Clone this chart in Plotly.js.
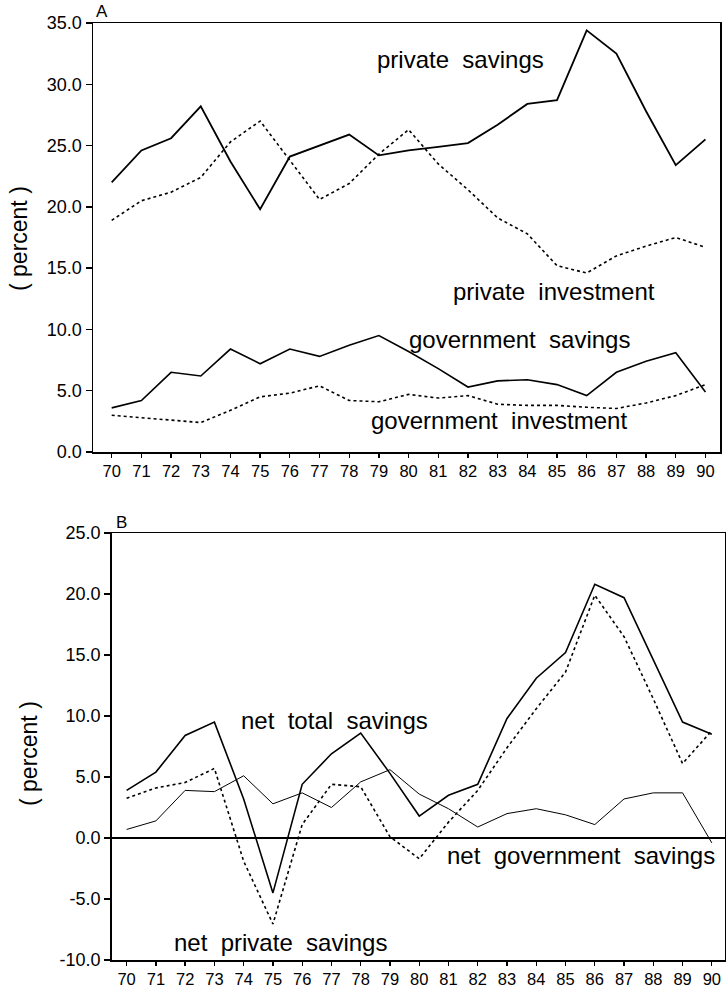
<!DOCTYPE html>
<html>
<head>
<meta charset="utf-8">
<script src="https://cdn.plot.ly/plotly-3.0.1.min.js"></script>
<style>
html,body{margin:0;padding:0;background:#fff;}
#chart{width:726px;height:990px;}
</style>
</head>
<body>
<div id="chart"></div>
<script>
// ---- data ----
var years = [70,71,72,73,74,75,76,77,78,79,80,81,82,83,84,85,86,87,88,89,90];
var yearLabels = ['70','71','72','73','74','75','76','77','78','79','80','81','82','83','84','85','86','87','88','89','90'];

// Panel A
var privateSavings    = [22.0,24.6,25.6,28.2,23.7,19.8,24.1,25.0,25.9,24.2,24.6,24.9,25.2,26.7,28.4,28.7,34.4,32.5,27.8,23.4,25.5];
var privateInvestment = [18.9,20.5,21.2,22.4,25.3,27.0,23.8,20.6,21.9,24.3,26.3,23.5,21.4,19.1,17.8,15.2,14.6,16.0,16.8,17.5,16.7];
var govSavings        = [3.6,4.2,6.5,6.2,8.4,7.2,8.4,7.8,8.7,9.5,8.2,6.8,5.3,5.8,5.9,5.5,4.6,6.5,7.4,8.1,4.9];
var govInvestment     = [3.0,2.8,2.6,2.4,3.4,4.5,4.8,5.4,4.2,4.1,4.7,4.4,4.6,3.9,3.8,3.8,3.65,3.55,4.0,4.6,5.5];

// Panel B
var netTotal   = [3.9,5.4,8.4,9.5,3.2,-4.5,4.4,6.9,8.6,5.3,1.8,3.5,4.4,9.8,13.1,15.2,20.8,19.7,14.6,9.5,8.5];
var netPrivate = [3.25,4.1,4.55,5.7,-1.9,-7.05,1.1,4.4,4.2,0.1,-1.7,1.3,3.9,7.4,10.6,13.6,19.9,16.5,11.4,6.1,8.8];
var netGov     = [0.7,1.4,3.9,3.8,5.1,2.8,3.7,2.5,4.6,5.6,3.6,2.4,0.9,2.0,2.4,1.9,1.1,3.2,3.7,3.7,-0.4];

var yTicksA = [0,5,10,15,20,25,30,35];
var yTicksB = [-10,-5,0,5,10,15,20,25];

// ---- helpers ----
var W = 726, H = 990;
function px(x){ return x / W; }
function py(y){ return 1 - y / H; }
var FONT = 'Liberation Sans, Arial, Helvetica, sans-serif';
var NB = '\u00a0';
function sp(s){ return s.split(' ').join(NB + NB); }

function line(y, xa, ya, dash, width){
  return {x: years, y: y, xaxis: xa, yaxis: ya, type: 'scatter', mode: 'lines',
          line: {color: '#000', width: width, dash: dash}, hoverinfo: 'skip', showlegend: false};
}

var traces = [
  line(privateSavings, 'x', 'y', 'solid', 1.8),
  line(privateInvestment, 'x', 'y', 'dot', 1.6),
  line(govSavings, 'x', 'y', 'solid', 1.6),
  line(govInvestment, 'x', 'y', 'dot', 1.6),
  line(netTotal, 'x2', 'y2', 'solid', 1.6),
  line(netPrivate, 'x2', 'y2', 'dot', 1.6),
  line(netGov, 'x2', 'y2', 'solid', 1.0)
];

var axCommon = {
  showline: true, mirror: true, linecolor: '#000', linewidth: 1.5,
  showgrid: false, zeroline: false,
  ticks: 'outside', ticklen: 6, tickwidth: 1.3, tickcolor: '#000',
  tickfont: {family: FONT, size: 18, color: '#000'}
};

function xa(domainPx, range, anchor){
  return Object.assign({}, axCommon, {
    domain: [px(domainPx[0]), px(domainPx[1])], range: range, anchor: anchor,
    ticklen: 4, tickfont: {family: FONT, size: 16.5, color: '#000'},
    tickmode: 'array', tickvals: years, ticktext: yearLabels
  });
}
function ya(domainPx, range, ticks, anchor, zl){
  return Object.assign({}, axCommon, {
    domain: [py(domainPx[1]), py(domainPx[0])], range: range, anchor: anchor,
    tickmode: 'array', tickvals: ticks, ticktext: ticks.map(function(v){return v.toFixed(1);}),
    zeroline: zl, zerolinecolor: '#000', zerolinewidth: 1.6
  });
}

function label(text, cx, cy, size, angle){
  return {xref: 'paper', yref: 'paper', x: px(cx), y: py(cy), text: text,
          showarrow: false, xanchor: 'center', yanchor: 'middle', textangle: angle || 0,
          font: {family: FONT, size: size, color: '#000'}};
}

var pct = '(\u00a0percent\u00a0)';

var layout = {
  width: W, height: H,
  margin: {l: 0, r: 0, t: 0, b: 0},
  paper_bgcolor: '#fff', plot_bgcolor: '#fff',
  showlegend: false,
  xaxis: xa([93, 720], [69.37, 90.49], 'y'),
  yaxis: ya([23, 452], [0, 35], yTicksA, 'x', false),
  xaxis2: xa([111.7, 725], [69.49, 90.45], 'y2'),
  yaxis2: ya([533, 960], [-10, 25], yTicksB, 'x2', true),
  annotations: [
    label('A', 102, 12, 17),
    label('B', 121, 522, 17),
    label(pct, 19, 239, 23, -90),
    label(pct, 29, 754, 23, -90),
    label(sp('private savings'), 460, 60, 24),
    label(sp('private investment'), 554, 291, 24),
    label(sp('government savings'), 519, 339, 24),
    label(sp('government investment'), 499, 421, 24),
    label(sp('net total savings'), 334, 720, 24),
    label(sp('net government savings'), 581, 855, 24),
    label(sp('net private savings'), 280, 942, 24)
  ]
};

Plotly.newPlot('chart', traces, layout, {staticPlot: true, displayModeBar: false});
</script>
</body>
</html>
